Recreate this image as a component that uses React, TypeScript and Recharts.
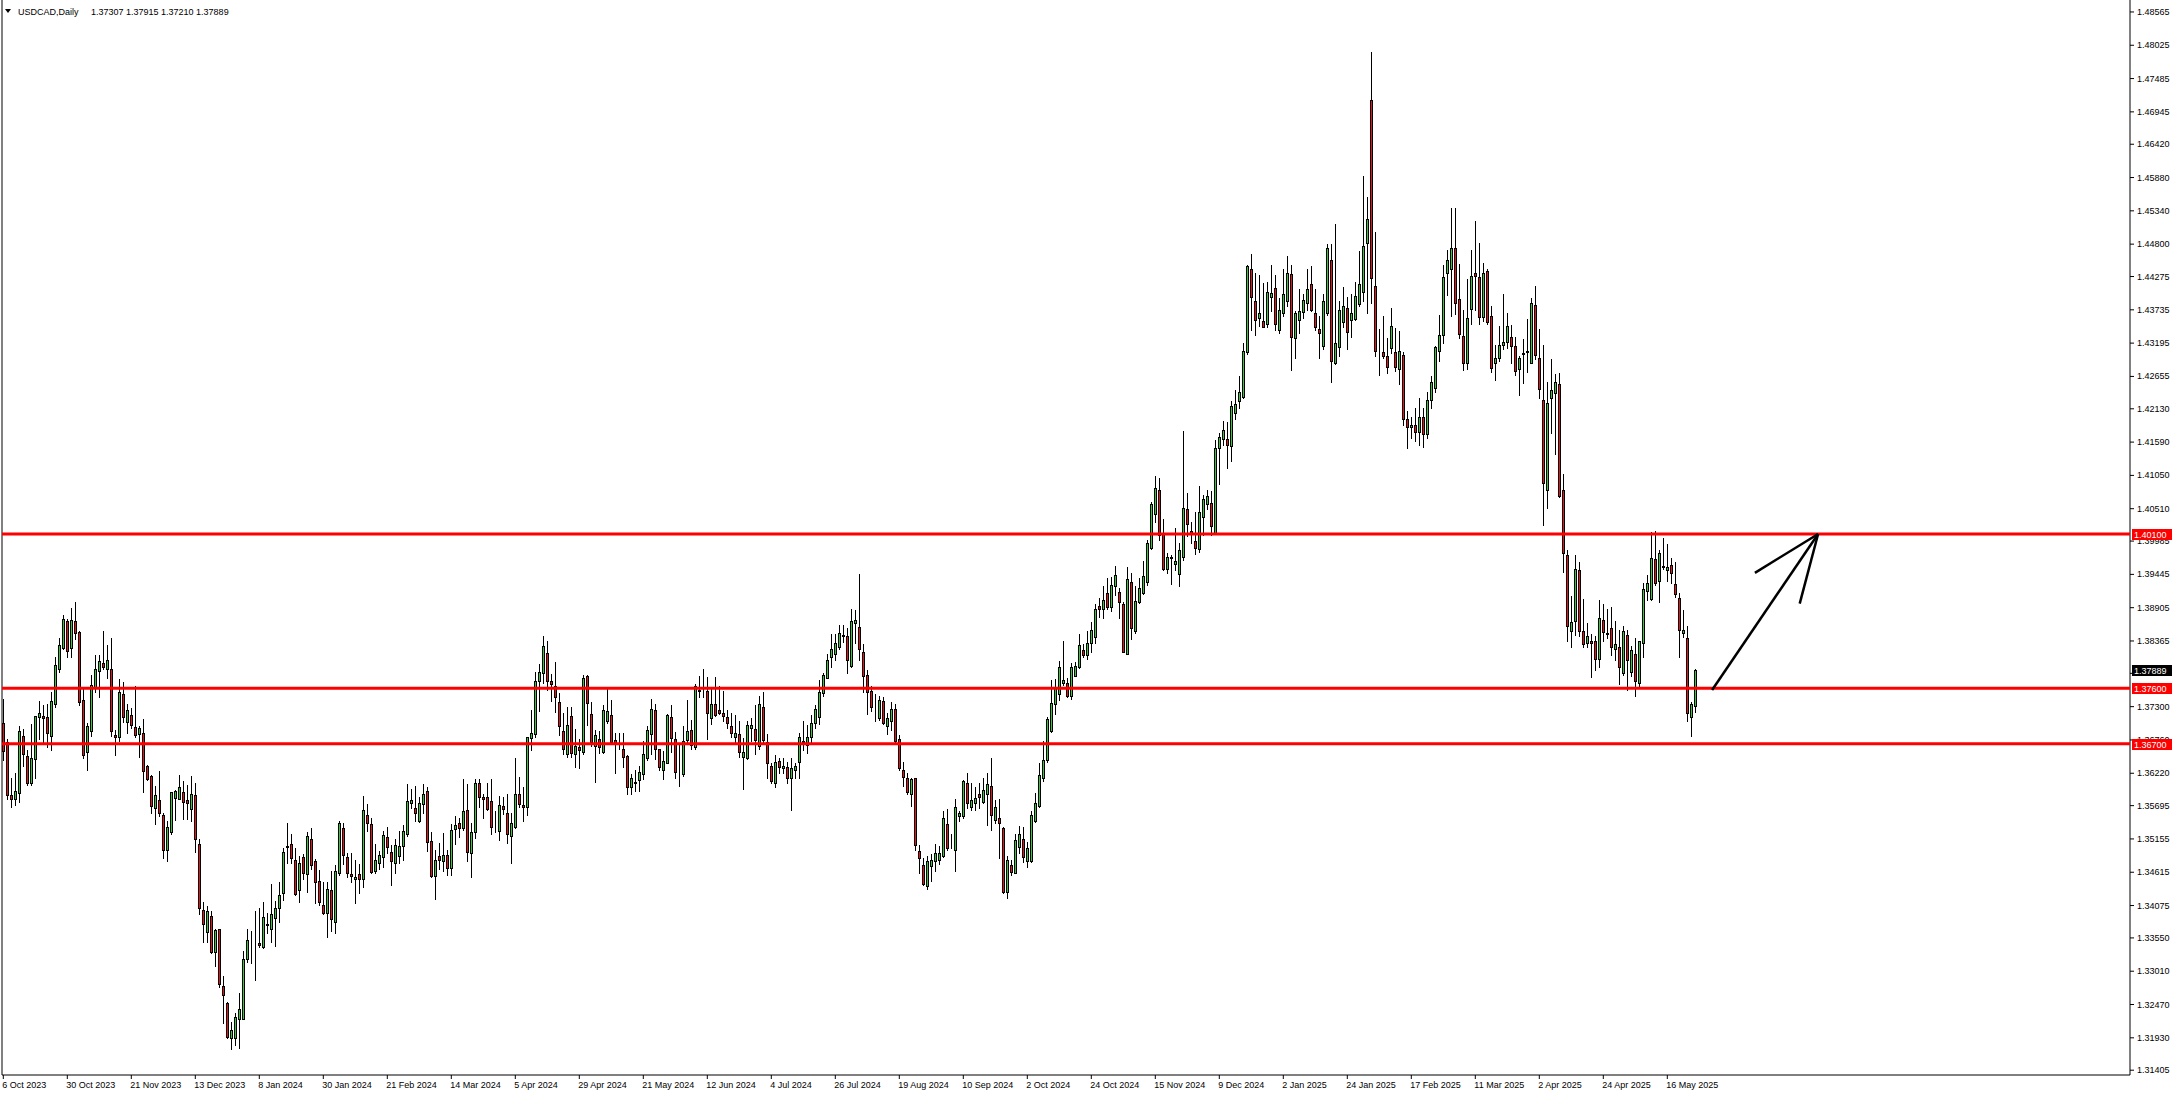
import React from 'react';
import { ComposedChart, Bar, XAxis, YAxis, ReferenceLine } from 'recharts';

const W = 2176;
const H = 1094;
const FONT = '"Liberation Sans", Arial, sans-serif';
const GREEN = '#32cd32';
const RED = '#ee1111';

// USDCAD daily, one bar per trading day from 6 Oct 2023
const opens = [
  1.3704, 1.3672, 1.3587, 1.3581, 1.3590, 1.3683, 1.3650, 1.3607, 1.3645, 1.3714,
  1.3715, 1.3713, 1.3683, 1.3734, 1.3791, 1.3825, 1.3869, 1.3825, 1.3869, 1.3851,
  1.3741, 1.3657, 1.3691, 1.3760, 1.3788, 1.3800, 1.3791, 1.3791, 1.3684, 1.3680,
  1.3750, 1.3705, 1.3717, 1.3697, 1.3685, 1.3688, 1.3634, 1.3617, 1.3565, 1.3579,
  1.3554, 1.3497, 1.3526, 1.3582, 1.3581, 1.3591, 1.3578, 1.3564, 1.3586, 1.3507,
  1.3401, 1.3365, 1.3391, 1.3332, 1.3369, 1.3277, 1.3250, 1.3193, 1.3193, 1.3224,
  1.3224, 1.3320, 1.3348, 1.3349, 1.3346, 1.3341, 1.3376, 1.3369, 1.3388, 1.3403,
  1.3428, 1.3503, 1.3508, 1.3482, 1.3432, 1.3486, 1.3458, 1.3515, 1.3480, 1.3448,
  1.3409, 1.3396, 1.3432, 1.3381, 1.3460, 1.3533, 1.3486, 1.3458, 1.3450, 1.3458,
  1.3450, 1.3555, 1.3539, 1.3464, 1.3476, 1.3486, 1.3519, 1.3494, 1.3477, 1.3488,
  1.3504, 1.3523, 1.3573, 1.3565, 1.3545, 1.3572, 1.3593, 1.3512, 1.3456, 1.3488,
  1.3479, 1.3490, 1.3469, 1.3531, 1.3541, 1.3533, 1.3563, 1.3492, 1.3527, 1.3607,
  1.3584, 1.3583, 1.3577, 1.3537, 1.3529, 1.3569, 1.3558, 1.3521, 1.3535, 1.3588,
  1.3570, 1.3568, 1.3679, 1.3685, 1.3771, 1.3784, 1.3817, 1.3772, 1.3764, 1.3737,
  1.3691, 1.3654, 1.3715, 1.3653, 1.3665, 1.3657, 1.3780, 1.3718, 1.3667, 1.3677,
  1.3657, 1.3707, 1.3716, 1.3676, 1.3666, 1.3662, 1.3650, 1.3599, 1.3606, 1.3611,
  1.3620, 1.3647, 1.3685, 1.3725, 1.3661, 1.3627, 1.3638, 1.3713, 1.3677, 1.3626,
  1.3621, 1.3676, 1.3692, 1.3665, 1.3757, 1.3755, 1.3755, 1.3711, 1.3734, 1.3725,
  1.3720, 1.3713, 1.3698, 1.3681, 1.3686, 1.3649, 1.3646, 1.3695, 1.3693, 1.3667,
  1.3730, 1.3672, 1.3633, 1.3606, 1.3642, 1.3630, 1.3632, 1.3614, 1.3628, 1.3641,
  1.3673, 1.3668, 1.3681, 1.3703, 1.3713, 1.3752, 1.3777, 1.3810, 1.3815, 1.3826,
  1.3847, 1.3845, 1.3796, 1.3866, 1.3859, 1.3818, 1.3781, 1.3755, 1.3727, 1.3712,
  1.3739, 1.3699, 1.3707, 1.3726, 1.3677, 1.3628, 1.3614, 1.3588, 1.3614, 1.3496,
  1.3473, 1.3439, 1.3471, 1.3479, 1.3482, 1.3488, 1.3539, 1.3500, 1.3498, 1.3552,
  1.3552, 1.3607, 1.3568, 1.3574, 1.3588, 1.3576, 1.3588, 1.3601, 1.3547, 1.3550,
  1.3534, 1.3429, 1.3474, 1.3460, 1.3502, 1.3516, 1.3479, 1.3480, 1.3545, 1.3569,
  1.3615, 1.3644, 1.3691, 1.3734, 1.3750, 1.3768, 1.3769, 1.3748, 1.3780, 1.3794,
  1.3822, 1.3813, 1.3833, 1.3843, 1.3894, 1.3888, 1.3914, 1.3892, 1.3926, 1.3916,
  1.3897, 1.3815, 1.3932, 1.3852, 1.3900, 1.3914, 1.3932, 1.3987, 1.4043, 1.4082,
  1.4011, 1.3954, 1.3972, 1.3961, 1.3945, 1.3972, 1.4050, 1.4015, 1.3999, 1.3985,
  1.4037, 1.4058, 1.4060, 1.4011, 1.4150, 1.4164, 1.4164, 1.4153, 1.4206, 1.4226,
  1.4232, 1.4305, 1.4439, 1.4387, 1.4360, 1.4356, 1.4350, 1.4395, 1.4409, 1.4340,
  1.4368, 1.4388, 1.4431, 1.4327, 1.4357, 1.4370, 1.4384, 1.4415, 1.4368, 1.4342,
  1.4315, 1.4368, 1.4455, 1.4287, 1.4313, 1.4354, 1.4376, 1.4357, 1.4358, 1.4383,
  1.4403, 1.4482, 1.4714, 1.4412, 1.4312, 1.4305, 1.4299, 1.4311, 1.4305, 1.4277,
  1.4300, 1.4196, 1.4183, 1.4187, 1.4175, 1.4200, 1.4172, 1.4228, 1.4247, 1.4306,
  1.4333, 1.4433, 1.4439, 1.4473, 1.4391, 1.4331, 1.4288, 1.4375, 1.4434, 1.4426,
  1.4362, 1.4436, 1.4364, 1.4287, 1.4296, 1.4317, 1.4321, 1.4329, 1.4315, 1.4277,
  1.4303, 1.4305, 1.4287, 1.4381, 1.4295, 1.4227, 1.4081, 1.4230, 1.4238, 1.4253,
  1.4081, 1.3976, 1.3852, 1.3869, 1.3952, 1.3853, 1.3834, 1.3836, 1.3836, 1.3807,
  1.3870, 1.3848, 1.3857, 1.3823, 1.3826, 1.3784, 1.3847, 1.3786, 1.3815, 1.3769,
  1.3834, 1.3917, 1.3904, 1.3969, 1.3933, 1.3957, 1.3951, 1.3960, 1.3929, 1.3906,
  1.3849, 1.3842, 1.3713, 1.37307,
];

const highs = [
  1.3743, 1.3677, 1.3615, 1.3622, 1.3699, 1.3694, 1.3660, 1.3702, 1.3715, 1.3739,
  1.3733, 1.3735, 1.3753, 1.3810, 1.3842, 1.3879, 1.3872, 1.3890, 1.3899, 1.3853,
  1.3758, 1.3703, 1.3781, 1.3814, 1.3814, 1.3853, 1.3830, 1.3842, 1.3692, 1.3775,
  1.3770, 1.3734, 1.3728, 1.3764, 1.3699, 1.3710, 1.3636, 1.3619, 1.3601, 1.3626,
  1.3557, 1.3545, 1.3592, 1.3595, 1.3619, 1.3609, 1.3603, 1.3618, 1.3607, 1.3516,
  1.3414, 1.3407, 1.3399, 1.3369, 1.3369, 1.3293, 1.3251, 1.3218, 1.3233, 1.3265,
  1.3333, 1.3370, 1.3366, 1.3399, 1.3404, 1.3413, 1.3395, 1.3442, 1.3415, 1.3446,
  1.3500, 1.3541, 1.3524, 1.3500, 1.3488, 1.3491, 1.3526, 1.3533, 1.3483, 1.3465,
  1.3445, 1.3445, 1.3464, 1.3473, 1.3544, 1.3542, 1.3492, 1.3492, 1.3481, 1.3475,
  1.3585, 1.3572, 1.3550, 1.3507, 1.3496, 1.3528, 1.3535, 1.3506, 1.3516, 1.3528,
  1.3538, 1.3604, 1.3596, 1.3601, 1.3584, 1.3604, 1.3600, 1.3526, 1.3497, 1.3509,
  1.3525, 1.3497, 1.3540, 1.3552, 1.3550, 1.3613, 1.3605, 1.3541, 1.3613, 1.3613,
  1.3589, 1.3607, 1.3613, 1.3561, 1.3585, 1.3583, 1.3588, 1.3557, 1.3646, 1.3616,
  1.3600, 1.3681, 1.3725, 1.3787, 1.3799, 1.3845, 1.3837, 1.3783, 1.3802, 1.3752,
  1.3720, 1.3729, 1.3729, 1.3693, 1.3677, 1.3781, 1.3781, 1.3737, 1.3692, 1.3690,
  1.3733, 1.3761, 1.3741, 1.3688, 1.3688, 1.3688, 1.3652, 1.3621, 1.3627, 1.3633,
  1.3674, 1.3698, 1.3742, 1.3735, 1.3662, 1.3658, 1.3718, 1.3733, 1.3689, 1.3669,
  1.3698, 1.3741, 1.3708, 1.3767, 1.3780, 1.3791, 1.3778, 1.3762, 1.3778, 1.3763,
  1.3755, 1.3725, 1.3719, 1.3716, 1.3707, 1.3679, 1.3706, 1.3711, 1.3733, 1.3747,
  1.3753, 1.3686, 1.3638, 1.3652, 1.3646, 1.3646, 1.3641, 1.3646, 1.3638, 1.3687,
  1.3706, 1.3700, 1.3716, 1.3733, 1.3773, 1.3784, 1.3815, 1.3848, 1.3848, 1.3863,
  1.3862, 1.3857, 1.3888, 1.3887, 1.3945, 1.3831, 1.3789, 1.3763, 1.3750, 1.3747,
  1.3745, 1.3719, 1.3737, 1.3735, 1.3684, 1.3641, 1.3622, 1.3614, 1.3614, 1.3505,
  1.3484, 1.3488, 1.3491, 1.3508, 1.3504, 1.3561, 1.3564, 1.3523, 1.3581, 1.3561,
  1.3611, 1.3622, 1.3606, 1.3600, 1.3606, 1.3615, 1.3623, 1.3646, 1.3579, 1.3581,
  1.3535, 1.3488, 1.3482, 1.3524, 1.3536, 1.3535, 1.3511, 1.3560, 1.3590, 1.3639,
  1.3674, 1.3714, 1.3773, 1.3775, 1.3804, 1.3836, 1.3776, 1.3800, 1.3803, 1.3848,
  1.3831, 1.3853, 1.3867, 1.3896, 1.3906, 1.3926, 1.3939, 1.3941, 1.3958, 1.3922,
  1.3899, 1.3956, 1.3947, 1.3926, 1.3938, 1.3966, 1.4001, 1.4062, 1.4104, 1.4100,
  1.4034, 1.3979, 1.3976, 1.4019, 1.3995, 1.4177, 1.4077, 1.4029, 1.4045, 1.4088,
  1.4073, 1.4081, 1.4079, 1.4163, 1.4173, 1.4193, 1.4192, 1.4225, 1.4244, 1.4266,
  1.4320, 1.4446, 1.4464, 1.4433, 1.4430, 1.4417, 1.4418, 1.4446, 1.4430, 1.4392,
  1.4440, 1.4461, 1.4446, 1.4372, 1.4407, 1.4399, 1.4440, 1.4445, 1.4407, 1.4364,
  1.4399, 1.4481, 1.4481, 1.4513, 1.4388, 1.4411, 1.4395, 1.4399, 1.4418, 1.4469,
  1.4591, 1.4557, 1.4791, 1.4500, 1.4342, 1.4364, 1.4327, 1.4376, 1.4344, 1.4339,
  1.4305, 1.4210, 1.4200, 1.4215, 1.4230, 1.4215, 1.4240, 1.4266, 1.4315, 1.4365,
  1.4446, 1.4471, 1.4538, 1.4538, 1.4447, 1.4374, 1.4423, 1.4470, 1.4518, 1.4482,
  1.4449, 1.4439, 1.4379, 1.4317, 1.4347, 1.4399, 1.4369, 1.4349, 1.4329, 1.4299,
  1.4326, 1.4358, 1.4392, 1.4412, 1.4342, 1.4317, 1.4257, 1.4294, 1.4269, 1.4271,
  1.4107, 1.3984, 1.3909, 1.3976, 1.3964, 1.3905, 1.3866, 1.3848, 1.3845, 1.3903,
  1.3896, 1.3889, 1.3891, 1.3869, 1.3854, 1.3861, 1.3854, 1.3828, 1.3842, 1.3837,
  1.3930, 1.3943, 1.4014, 1.4015, 1.3984, 1.4004, 1.3993, 1.3971, 1.3965, 1.3915,
  1.3887, 1.3861, 1.3737, 1.37915,
];

const lows = [
  1.3643, 1.3580, 1.3568, 1.3570, 1.3576, 1.3634, 1.3603, 1.3603, 1.3615, 1.3677,
  1.3669, 1.3665, 1.3659, 1.3729, 1.3787, 1.3823, 1.3811, 1.3811, 1.3839, 1.3733,
  1.3646, 1.3628, 1.3683, 1.3753, 1.3745, 1.3791, 1.3776, 1.3683, 1.3652, 1.3674,
  1.3705, 1.3688, 1.3695, 1.3681, 1.3649, 1.3592, 1.3611, 1.3558, 1.3539, 1.3552,
  1.3485, 1.3480, 1.3524, 1.3546, 1.3580, 1.3548, 1.3548, 1.3544, 1.3494, 1.3393,
  1.3349, 1.3349, 1.3330, 1.3310, 1.3276, 1.3217, 1.3193, 1.3175, 1.3181, 1.3177,
  1.3224, 1.3316, 1.3315, 1.3286, 1.3340, 1.3339, 1.3363, 1.3349, 1.3342, 1.3380,
  1.3417, 1.3476, 1.3477, 1.3425, 1.3414, 1.3450, 1.3429, 1.3466, 1.3412, 1.3408,
  1.3393, 1.3357, 1.3366, 1.3363, 1.3457, 1.3475, 1.3453, 1.3446, 1.3412, 1.3428,
  1.3438, 1.3529, 1.3461, 1.3460, 1.3466, 1.3470, 1.3492, 1.3440, 1.3460, 1.3476,
  1.3482, 1.3521, 1.3565, 1.3545, 1.3543, 1.3558, 1.3496, 1.3453, 1.3418, 1.3467,
  1.3464, 1.3457, 1.3457, 1.3508, 1.3519, 1.3530, 1.3480, 1.3454, 1.3517, 1.3568,
  1.3550, 1.3562, 1.3523, 1.3526, 1.3513, 1.3556, 1.3509, 1.3476, 1.3534, 1.3568,
  1.3545, 1.3554, 1.3659, 1.3681, 1.3723, 1.3769, 1.3757, 1.3739, 1.3722, 1.3684,
  1.3653, 1.3649, 1.3649, 1.3632, 1.3630, 1.3654, 1.3701, 1.3667, 1.3608, 1.3655,
  1.3655, 1.3704, 1.3670, 1.3623, 1.3661, 1.3632, 1.3588, 1.3588, 1.3594, 1.3594,
  1.3612, 1.3643, 1.3654, 1.3645, 1.3627, 1.3613, 1.3638, 1.3657, 1.3615, 1.3601,
  1.3617, 1.3673, 1.3661, 1.3661, 1.3746, 1.3746, 1.3677, 1.3702, 1.3715, 1.3718,
  1.3707, 1.3696, 1.3680, 1.3671, 1.3648, 1.3597, 1.3645, 1.3674, 1.3653, 1.3662,
  1.3671, 1.3614, 1.3607, 1.3600, 1.3623, 1.3622, 1.3607, 1.3562, 1.3615, 1.3615,
  1.3660, 1.3655, 1.3669, 1.3696, 1.3702, 1.3748, 1.3776, 1.3795, 1.3805, 1.3823,
  1.3835, 1.3785, 1.3794, 1.3833, 1.3806, 1.3754, 1.3718, 1.3723, 1.3707, 1.3709,
  1.3702, 1.3686, 1.3692, 1.3673, 1.3627, 1.3601, 1.3589, 1.3569, 1.3497, 1.3460,
  1.3441, 1.3435, 1.3448, 1.3464, 1.3475, 1.3487, 1.3498, 1.3500, 1.3464, 1.3545,
  1.3549, 1.3565, 1.3562, 1.3563, 1.3565, 1.3574, 1.3538, 1.3530, 1.3541, 1.3485,
  1.3428, 1.3419, 1.3457, 1.3460, 1.3492, 1.3478, 1.3470, 1.3478, 1.3543, 1.3568,
  1.3610, 1.3641, 1.3689, 1.3718, 1.3740, 1.3765, 1.3745, 1.3743, 1.3779, 1.3792,
  1.3811, 1.3807, 1.3818, 1.3834, 1.3876, 1.3874, 1.3888, 1.3885, 1.3911, 1.3873,
  1.3819, 1.3815, 1.3840, 1.3850, 1.3898, 1.3913, 1.3927, 1.3985, 1.4030, 1.4001,
  1.3952, 1.3946, 1.3929, 1.3952, 1.3925, 1.3968, 1.4006, 1.3996, 1.3977, 1.3980,
  1.4008, 1.4050, 1.4008, 1.4011, 1.4091, 1.4155, 1.4117, 1.4128, 1.4196, 1.4214,
  1.4230, 1.4302, 1.4341, 1.4332, 1.4347, 1.4345, 1.4345, 1.4372, 1.4341, 1.4336,
  1.4364, 1.4380, 1.4276, 1.4295, 1.4336, 1.4361, 1.4373, 1.4372, 1.4341, 1.4296,
  1.4310, 1.4365, 1.4257, 1.4286, 1.4298, 1.4346, 1.4310, 1.4330, 1.4357, 1.4380,
  1.4388, 1.4368, 1.4385, 1.4298, 1.4267, 1.4295, 1.4271, 1.4303, 1.4275, 1.4253,
  1.4186, 1.4150, 1.4165, 1.4160, 1.4155, 1.4151, 1.4165, 1.4215, 1.4240, 1.4290,
  1.4319, 1.4397, 1.4364, 1.4366, 1.4327, 1.4276, 1.4277, 1.4350, 1.4374, 1.4350,
  1.4356, 1.4351, 1.4273, 1.4260, 1.4291, 1.4310, 1.4311, 1.4287, 1.4268, 1.4235,
  1.4255, 1.4273, 1.4287, 1.4294, 1.4230, 1.4024, 1.4052, 1.4174, 1.4139, 1.4070,
  1.3949, 1.3837, 1.3826, 1.3846, 1.3844, 1.3826, 1.3826, 1.3778, 1.3790, 1.3795,
  1.3837, 1.3842, 1.3814, 1.3806, 1.3767, 1.3781, 1.3757, 1.3780, 1.3748, 1.3761,
  1.3811, 1.3903, 1.3903, 1.3928, 1.3899, 1.3953, 1.3934, 1.3930, 1.3908, 1.3811,
  1.3843, 1.3707, 1.3683, 1.37210,
];

const closes = [
  1.3658, 1.3587, 1.3581, 1.3593, 1.3691, 1.3653, 1.3607, 1.3647, 1.3715, 1.3720,
  1.3712, 1.3688, 1.3739, 1.3798, 1.3830, 1.3872, 1.3821, 1.3871, 1.3849, 1.3738,
  1.3651, 1.3699, 1.3765, 1.3791, 1.3804, 1.3795, 1.3806, 1.3691, 1.3680, 1.3753,
  1.3714, 1.3724, 1.3700, 1.3684, 1.3695, 1.3625, 1.3613, 1.3569, 1.3586, 1.3557,
  1.3497, 1.3535, 1.3591, 1.3593, 1.3600, 1.3576, 1.3573, 1.3589, 1.3516, 1.3404,
  1.3377, 1.3398, 1.3332, 1.3368, 1.3280, 1.3263, 1.3195, 1.3205, 1.3226, 1.3239,
  1.3320, 1.3352, 1.3349, 1.3348, 1.3343, 1.3389, 1.3377, 1.3394, 1.3403, 1.3424,
  1.3494, 1.3504, 1.3485, 1.3426, 1.3477, 1.3460, 1.3521, 1.3474, 1.3446, 1.3414,
  1.3396, 1.3434, 1.3385, 1.3463, 1.3541, 1.3490, 1.3461, 1.3455, 1.3453, 1.3450,
  1.3563, 1.3542, 1.3462, 1.3482, 1.3489, 1.3522, 1.3503, 1.3480, 1.3506, 1.3504,
  1.3528, 1.3577, 1.3579, 1.3558, 1.3573, 1.3589, 1.3511, 1.3455, 1.3482, 1.3482,
  1.3490, 1.3469, 1.3530, 1.3538, 1.3533, 1.3561, 1.3494, 1.3526, 1.3606, 1.3583,
  1.3581, 1.3564, 1.3535, 1.3536, 1.3570, 1.3564, 1.3524, 1.3542, 1.3588, 1.3572,
  1.3568, 1.3680, 1.3687, 1.3772, 1.3786, 1.3828, 1.3772, 1.3766, 1.3746, 1.3698,
  1.3661, 1.3701, 1.3655, 1.3667, 1.3659, 1.3776, 1.3736, 1.3673, 1.3684, 1.3664,
  1.3725, 1.3723, 1.3672, 1.3671, 1.3666, 1.3649, 1.3600, 1.3615, 1.3608, 1.3624,
  1.3653, 1.3692, 1.3727, 1.3662, 1.3632, 1.3642, 1.3716, 1.3679, 1.3624, 1.3625,
  1.3675, 1.3691, 1.3668, 1.3764, 1.3755, 1.3756, 1.3720, 1.3735, 1.3716, 1.3719,
  1.3715, 1.3703, 1.3687, 1.3688, 1.3656, 1.3656, 1.3700, 1.3700, 1.3676, 1.3734,
  1.3676, 1.3638, 1.3610, 1.3640, 1.3632, 1.3634, 1.3615, 1.3630, 1.3634, 1.3680,
  1.3674, 1.3680, 1.3703, 1.3726, 1.3753, 1.3782, 1.3806, 1.3823, 1.3834, 1.3849,
  1.3845, 1.3805, 1.3869, 1.3871, 1.3823, 1.3780, 1.3754, 1.3730, 1.3726, 1.3741,
  1.3703, 1.3711, 1.3727, 1.3675, 1.3631, 1.3616, 1.3592, 1.3613, 1.3505, 1.3484,
  1.3442, 1.3480, 1.3482, 1.3492, 1.3492, 1.3549, 1.3500, 1.3500, 1.3568, 1.3557,
  1.3609, 1.3573, 1.3579, 1.3582, 1.3584, 1.3595, 1.3604, 1.3554, 1.3567, 1.3541,
  1.3429, 1.3482, 1.3462, 1.3513, 1.3523, 1.3487, 1.3500, 1.3554, 1.3573, 1.3619,
  1.3643, 1.3710, 1.3736, 1.3760, 1.3794, 1.3773, 1.3748, 1.3794, 1.3796, 1.3830,
  1.3813, 1.3834, 1.3854, 1.3888, 1.3888, 1.3903, 1.3892, 1.3927, 1.3943, 1.3900,
  1.3819, 1.3937, 1.3857, 1.3901, 1.3922, 1.3942, 1.3995, 1.4058, 1.4084, 1.4008,
  1.3953, 1.3972, 1.3971, 1.3967, 1.3984, 1.4052, 1.4026, 1.4011, 1.3988, 1.4045,
  1.4066, 1.4071, 1.4023, 1.4149, 1.4168, 1.4179, 1.4155, 1.4218, 1.4220, 1.4240,
  1.4307, 1.4444, 1.4395, 1.4357, 1.4369, 1.4345, 1.4403, 1.4400, 1.4350, 1.4374,
  1.4399, 1.4433, 1.4329, 1.4368, 1.4371, 1.4389, 1.4407, 1.4374, 1.4345, 1.4336,
  1.4388, 1.4473, 1.4291, 1.4319, 1.4374, 1.4380, 1.4337, 1.4368, 1.4396, 1.4415,
  1.4477, 1.4521, 1.4425, 1.4306, 1.4311, 1.4299, 1.4281, 1.4347, 1.4280, 1.4307,
  1.4196, 1.4183, 1.4187, 1.4175, 1.4200, 1.4172, 1.4228, 1.4256, 1.4314, 1.4333,
  1.4426, 1.4455, 1.4473, 1.4384, 1.4334, 1.4288, 1.4360, 1.4429, 1.4429, 1.4362,
  1.4434, 1.4354, 1.4279, 1.4296, 1.4317, 1.4321, 1.4347, 1.4315, 1.4275, 1.4296,
  1.4302, 1.4307, 1.4384, 1.4300, 1.4245, 1.4093, 1.4223, 1.4243, 1.4256, 1.4072,
  1.3979, 1.3860, 1.3867, 1.3953, 1.3853, 1.3831, 1.3845, 1.3833, 1.3807, 1.3873,
  1.3851, 1.3849, 1.3826, 1.3831, 1.3795, 1.3853, 1.3806, 1.3822, 1.3772, 1.3836,
  1.3920, 1.3931, 1.3971, 1.3931, 1.3979, 1.3958, 1.3956, 1.3946, 1.3912, 1.3855,
  1.3855, 1.3719, 1.3734, 1.37889,
];

// one date label every 16 bars
const dateLabels = [
  '6 Oct 2023', '30 Oct 2023', '21 Nov 2023', '13 Dec 2023', '8 Jan 2024', '30 Jan 2024',
  '21 Feb 2024', '14 Mar 2024', '5 Apr 2024', '29 Apr 2024', '21 May 2024', '12 Jun 2024',
  '4 Jul 2024', '26 Jul 2024', '19 Aug 2024', '10 Sep 2024', '2 Oct 2024', '24 Oct 2024',
  '15 Nov 2024', '9 Dec 2024', '2 Jan 2025', '24 Jan 2025', '17 Feb 2025', '11 Mar 2025',
  '2 Apr 2025', '24 Apr 2025', '16 May 2025',
];
const labelStep = 16;

const priceTicks = [
  1.48565, 1.48025, 1.47485, 1.46945, 1.4642, 1.4588, 1.4534, 1.448, 1.44275, 1.43735,
  1.43195, 1.42655, 1.4213, 1.4159, 1.4105, 1.4051, 1.39985, 1.39445, 1.38905, 1.38365,
  1.3784, 1.373, 1.3676, 1.3622, 1.35695, 1.35155, 1.34615, 1.34075, 1.3355, 1.3301,
  1.3247, 1.3193, 1.31405,
];

const levels = [1.401, 1.376, 1.367];
const lastPrice = 1.37889;

// hand-drawn arrow (bar index, price)
const arrowTail = { x: 427.2, y: 1.3757 };
const arrowTip = { x: 453.7, y: 1.401 };
const arrowWings = [
  { x: 437.9, y: 1.3947 },
  { x: 449.1, y: 1.3897 },
];

const candles = opens.map((o, i) => ({
  i,
  open: o,
  high: highs[i],
  low: lows[i],
  close: closes[i],
}));
const dateTicks = dateLabels.map((_, k) => k * labelStep);

const X_DOMAIN: [number, number] = [-0.325, 531.675];
const Y_DOMAIN: [number, number] = [1.31327, 1.48759];
const MARGIN = { top: 0, right: 0, bottom: 0, left: 0 };

const Candle = (props: any) => {
  const { x, y, width, height, payload } = props;
  if (!payload || x == null || y == null) return null;
  const { open, close, high, low } = payload;
  const yHigh = Math.min(y, y + height);
  const yLow = Math.max(y, y + height);
  const span = high - low;
  const toY = (v: number) => (span > 0 ? yHigh + ((high - v) / span) * (yLow - yHigh) : yHigh);
  const c = Math.round(x + width / 2);
  const top = Math.round(toY(Math.max(open, close)));
  const bot = Math.round(toY(Math.min(open, close)));
  const fill = close > open ? GREEN : close < open ? RED : '#000';
  return (
    <g>
      <line x1={c + 0.5} x2={c + 0.5} y1={Math.round(yHigh)} y2={Math.round(yLow) + 1} stroke="#000" strokeWidth={1} />
      <rect x={c - 0.5} y={top + 0.5} width={2} height={Math.max(bot - top, 0)} fill={fill} stroke="#000" strokeWidth={1} />
    </g>
  );
};

const PriceTick = (props: any) => {
  const { x, y, payload } = props;
  return (
    <text x={x} y={y + 3} fontSize={9} fontFamily={FONT} fill="#000" textAnchor="start">
      {payload.value.toFixed(5)}
    </text>
  );
};

const DateTick = (props: any) => {
  const { x, y, payload } = props;
  const label = dateLabels[Math.round(payload.value / labelStep)];
  return (
    <text x={x - 1} y={y + 9} fontSize={9} fontFamily={FONT} fill="#000" textAnchor="start">
      {label}
    </text>
  );
};

const PriceTag = ({ viewBox, value, bg }: any) => {
  if (!viewBox) return null;
  const left = viewBox.x + viewBox.width + 2;
  const cy = Math.round(viewBox.y);
  return (
    <g>
      <rect x={left} y={cy - 5} width={40} height={11} fill={bg} />
      <text x={left + 2} y={cy + 3.5} fontSize={9} fontFamily={FONT} fill="#fff" textAnchor="start">
        {value.toFixed(5)}
      </text>
    </g>
  );
};

// axes shared by the base chart and the overlay (overlay keeps them invisible)
const axes = (visible: boolean) => [
  <XAxis
    key="x"
    xAxisId="x"
    dataKey="i"
    type="number"
    domain={X_DOMAIN}
    allowDataOverflow
    ticks={dateTicks}
    interval={0}
    height={19}
    tickSize={4}
    tickMargin={0}
    tickLine={visible ? { stroke: '#000' } : false}
    axisLine={visible ? { stroke: '#000' } : false}
    tick={visible ? <DateTick /> : false}
  />,
  <YAxis
    key="p"
    yAxisId="p"
    orientation="right"
    type="number"
    domain={Y_DOMAIN}
    allowDataOverflow
    ticks={priceTicks}
    interval={0}
    width={46}
    tickSize={4}
    tickMargin={3}
    tickLine={visible ? { stroke: '#000' } : false}
    axisLine={visible ? { stroke: '#000' } : false}
    tick={visible ? <PriceTick /> : false}
  />,
  <YAxis
    key="f"
    yAxisId="frame"
    orientation="left"
    width={2}
    tick={false}
    tickLine={false}
    axisLine={visible ? { stroke: '#000' } : false}
  />,
];

export default function App() {
  return (
    <div style={{ position: 'absolute', left: 0, top: 0, width: W, height: H, background: '#fff' }}>
      <ComposedChart width={W} height={H} data={candles} margin={MARGIN}>
        {axes(true)}
        <Bar
          xAxisId="x"
          yAxisId="p"
          dataKey={(d: any) => [d.low, d.high]}
          barSize={3}
          shape={(p: any) => <Candle {...p} />}
          isAnimationActive={false}
        />
      </ComposedChart>
      <div style={{ position: 'absolute', left: 0, top: 0, pointerEvents: 'none' }}>
        <ComposedChart width={W} height={H} data={candles} margin={MARGIN}>
          {axes(false)}
          {levels.map((lv) => (
            <ReferenceLine
              key={lv}
              xAxisId="x"
              yAxisId="p"
              y={lv}
              stroke="#ff0000"
              strokeWidth={3}
              label={(p: any) => <PriceTag {...p} value={lv} bg="#ff0000" />}
            />
          ))}
          <ReferenceLine
            xAxisId="x"
            yAxisId="p"
            y={lastPrice}
            stroke="none"
            label={(p: any) => <PriceTag {...p} value={lastPrice} bg="#000" />}
          />
          <ReferenceLine xAxisId="x" yAxisId="p" segment={[arrowTail, arrowTip]} stroke="#000" strokeWidth={2.5} />
          {arrowWings.map((w, k) => (
            <ReferenceLine key={k} xAxisId="x" yAxisId="p" segment={[w, arrowTip]} stroke="#000" strokeWidth={2.5} />
          ))}
        </ComposedChart>
      </div>
      <svg width={300} height={20} style={{ position: 'absolute', left: 0, top: 0 }}>
        <polygon points="5,9 11,9 8,13" fill="#000" />
        <text x={18} y={14.5} fontSize={9} fontFamily={FONT} fill="#000">USDCAD,Daily</text>
        <text x={91} y={14.5} fontSize={9} fontFamily={FONT} fill="#000">
          {`${opens[opens.length - 1].toFixed(5)} ${highs[highs.length - 1].toFixed(5)} ${lows[lows.length - 1].toFixed(5)} ${closes[closes.length - 1].toFixed(5)}`}
        </text>
      </svg>
    </div>
  );
}
